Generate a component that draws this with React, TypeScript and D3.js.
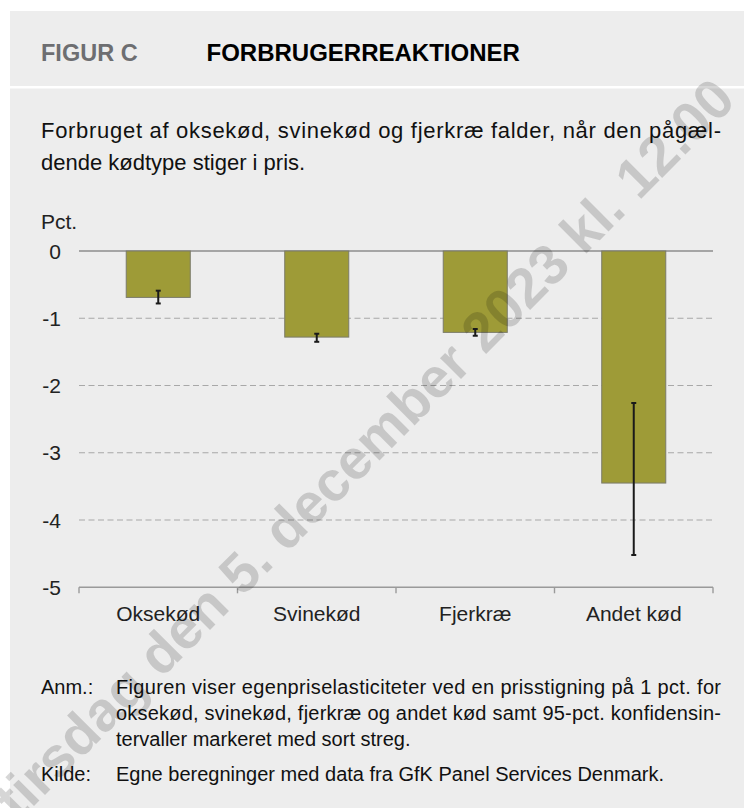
import React, { useEffect, useRef } from 'react';
import * as d3 from 'd3';

const categories = ['Oksekød', 'Svinekød', 'Fjerkræ', 'Andet kød'];
const elasticity = [-0.69, -1.28, -1.21, -3.45];
const ciLow = [-0.78, -1.35, -1.26, -4.52];
const ciHigh = [-0.59, -1.23, -1.16, -2.26];
const yTicks = [0, -1, -2, -3, -4, -5];

const figureLabel = 'FIGUR C';
const title = 'FORBRUGERREAKTIONER';
const subtitleLines = [
  'Forbruget af oksekød, svinekød og fjerkræ falder, når den pågæl-',
  'dende kødtype stiger i pris.',
];
const unitLabel = 'Pct.';
const noteLines = [
  'Figuren viser egenpriselasticiteter ved en prisstigning på 1 pct. for',
  'oksekød, svinekød, fjerkræ og andet kød samt 95-pct. konfidensin-',
  'tervaller markeret med sort streg.',
];
const sourceLine = 'Egne beregninger med data fra GfK Panel Services Denmark.';
const watermark = 'tirsdag den 5. december 2023 kl. 12.00';

const App = () => {
  const chartRef = useRef(null);

  useEffect(() => {
    const svg = d3.select(chartRef.current);
    svg.selectAll('*').remove();

    const width = 744;
    const height = 808;
    const font = "'Liberation Sans', Arial, Helvetica, sans-serif";

    svg.attr('width', width).attr('height', height).style('font-family', font);

    // panel background + header separator
    svg.append('rect')
      .attr('x', 10).attr('y', 11)
      .attr('width', width - 10).attr('height', height - 11)
      .attr('fill', '#ededed');
    svg.append('rect')
      .attr('x', 10).attr('y', 86)
      .attr('width', width - 10).attr('height', 2.5)
      .attr('fill', '#ffffff');

    svg.append('text')
      .attr('x', 41).attr('y', 60.5)
      .attr('font-size', 23.5).attr('font-weight', 'bold')
      .attr('fill', '#6d6e71')
      .text(figureLabel);
    svg.append('text')
      .attr('x', 206.5).attr('y', 60.5)
      .attr('font-size', 24).attr('font-weight', 'bold')
      .attr('fill', '#000')
      .text(title);

    subtitleLines.forEach((line, i) => {
      const t = svg.append('text')
        .attr('x', 41).attr('y', 137.5 + i * 32)
        .attr('font-size', 22)
        .attr('fill', '#111')
        .text(line);
      if (i === 0) t.attr('textLength', 680).attr('lengthAdjust', 'spacing');
    });

    // chart
    const x = d3.scaleBand().domain(categories).range([79, 713]);
    const y = d3.scaleLinear().domain([-5, 0]).range([587.3, 251]);
    const [x0, x1] = x.range();

    svg.append('text')
      .attr('x', 41).attr('y', 229)
      .attr('font-size', 21)
      .attr('fill', '#222')
      .text(unitLabel);

    const grid = svg.append('g');
    yTicks.forEach(t => {
      if (t === -5) return;
      grid.append('line')
        .attr('x1', x0).attr('x2', x1)
        .attr('y1', y(t)).attr('y2', y(t))
        .attr('stroke', t === 0 ? '#8c8c8c' : '#a8a8a8')
        .attr('stroke-width', t === 0 ? 1.4 : 1.1)
        .attr('stroke-dasharray', t === 0 ? null : '6,3.5');
    });

    svg.append('g')
      .selectAll('text')
      .data(yTicks)
      .enter().append('text')
      .attr('x', 61)
      .attr('y', d => y(d) + 7.5)
      .attr('text-anchor', 'end')
      .attr('font-size', 21)
      .attr('fill', '#222')
      .text(d => String(d));

    // bars
    const barW = x.bandwidth() * 0.404;
    const bars = svg.append('g');
    categories.forEach((c, i) => {
      const cx = x(c) + x.bandwidth() / 2;
      bars.append('rect')
        .attr('x', cx - barW / 2)
        .attr('y', y(0))
        .attr('width', barW)
        .attr('height', y(elasticity[i]) - y(0))
        .attr('fill', '#9e9b37')
        .attr('stroke', '#7b7b6a')
        .attr('stroke-width', 1);
    });

    // confidence intervals
    const err = svg.append('g').attr('stroke', '#1a1a1a');
    categories.forEach((c, i) => {
      const cx = x(c) + x.bandwidth() / 2;
      err.append('line')
        .attr('x1', cx).attr('x2', cx)
        .attr('y1', y(ciHigh[i])).attr('y2', y(ciLow[i]))
        .attr('stroke-width', 2);
      [ciHigh[i], ciLow[i]].forEach(v => {
        err.append('line')
          .attr('x1', cx - 2.5).attr('x2', cx + 2.5)
          .attr('y1', y(v)).attr('y2', y(v))
          .attr('stroke-width', 2);
      });
    });

    // bottom axis with boundary ticks
    const axis = svg.append('g').attr('stroke', '#9a9a9a').attr('stroke-width', 1.4);
    axis.append('line')
      .attr('x1', x0).attr('x2', x1)
      .attr('y1', y(-5)).attr('y2', y(-5));
    [...categories.map(c => x(c)), x1].forEach(px => {
      axis.append('line')
        .attr('x1', px).attr('x2', px)
        .attr('y1', y(-5)).attr('y2', y(-5) + 6);
    });

    svg.append('g')
      .selectAll('text')
      .data(categories)
      .enter().append('text')
      .attr('x', d => x(d) + x.bandwidth() / 2)
      .attr('y', 620.7)
      .attr('text-anchor', 'middle')
      .attr('font-size', 21)
      .attr('fill', '#222')
      .text(d => d);

    // notes
    svg.append('text')
      .attr('x', 41).attr('y', 694)
      .attr('font-size', 20).attr('fill', '#111')
      .text('Anm.:');
    noteLines.forEach((line, i) => {
      const t = svg.append('text')
        .attr('x', 116).attr('y', 694 + i * 26)
        .attr('font-size', 20).attr('fill', '#111')
        .text(line);
      if (i < 2) t.attr('textLength', 605).attr('lengthAdjust', 'spacing');
    });
    svg.append('text')
      .attr('x', 41).attr('y', 781)
      .attr('font-size', 20).attr('fill', '#111')
      .text('Kilde:');
    svg.append('text')
      .attr('x', 116).attr('y', 781)
      .attr('font-size', 20).attr('fill', '#111')
      .text(sourceLine);

    // embargo watermark
    svg.append('text')
      .attr('transform', 'translate(378,462) rotate(-45)')
      .attr('text-anchor', 'middle')
      .attr('font-size', 56)
      .attr('font-weight', 'bold')
      .attr('fill', '#000')
      .attr('fill-opacity', 0.16)
      .text(watermark);
  }, []);

  return <svg ref={chartRef} style={{ position: 'absolute', left: 0, top: 0 }}></svg>;
};

export default App;
